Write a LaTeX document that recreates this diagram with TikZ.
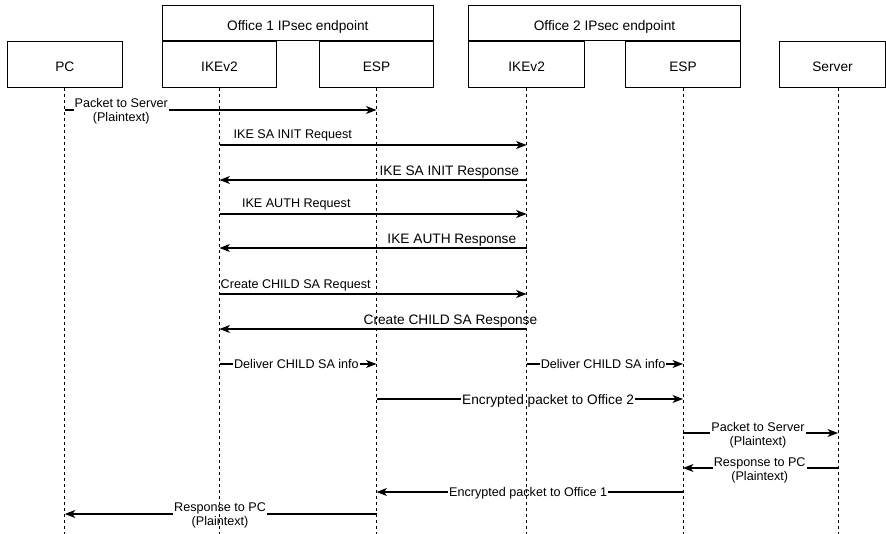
\documentclass[tikz,border=0pt]{standalone}
\usepackage{fontspec}
\setmainfont{Liberation Sans}
\usetikzlibrary{arrows.meta}

% font sizes for edge labels and participant boxes
\newcommand\lblfont{\fontsize{12.6}{14}\selectfont}
\newcommand\boxfont{\fontsize{13.7}{16}\selectfont}
% two-line label whose baseline is the first line
\newcommand\twolines[2]{\begin{tabular}[t]{@{}c@{}}#1\\#2\end{tabular}}

\tikzset{
  actor/.style={draw, line width=1pt, inner sep=0pt, font=\boxfont,
                text height=16.9pt, text depth=2.9pt},
  lifeline/.style={line width=0.9pt, dash pattern=on 3pt off 3pt},
  msg/.style={line width=1.1pt, -{Stealth[length=10.5pt,width=8pt,inset=3pt]}},
  % label sitting on its connector, blanking the line behind it
  lbl/.style={fill=white, inner sep=1pt, anchor=base, font=\lblfont},
  lblbig/.style={lbl, font=\boxfont},
  % label placed above its connector
  above lbl/.style={inner sep=1pt, anchor=base, font=\lblfont},
  above lblbig/.style={above lbl, font=\boxfont},
}

\begin{document}
\begin{tikzpicture}[x=1pt, y=-1pt]
\useasboundingbox (0,0) rectangle (886,534);
\coordinate (bottom) at (0,534);

% participants
\node[actor, minimum width=271pt,   minimum height=34.7pt] (off1) at (297.8,23.35) {Office 1 IPsec endpoint};
\node[actor, minimum width=272.4pt, minimum height=34.7pt] (off2) at (604.5,23.35) {Office 2 IPsec endpoint};
\node[actor, minimum width=115pt,   minimum height=45.8pt] (pc)   at (64.8,64.6)  {PC};
\node[actor, minimum width=114.4pt, minimum height=45.8pt] (ike1) at (219.5,64.6) {IKEv2};
\node[actor, minimum width=114.4pt, minimum height=45.8pt] (esp1) at (376.5,64.6) {ESP};
\node[actor, minimum width=115.7pt, minimum height=45.8pt] (ike2) at (526.6,64.6) {IKEv2};
\node[actor, minimum width=115.7pt, minimum height=45.8pt] (esp2) at (683,64.6)   {ESP};
\node[actor, minimum width=106.4pt, minimum height=45.8pt] (srv)  at (832.5,64.6) {Server};
\coordinate (srvl) at ([xshift=5.5pt]srv.south);

% messages
\draw[msg] (pc.south |- 0,110) -- (esp1.south |- 0,110)
  node[lbl, pos=0.181, yshift=2pt] (m1) {\twolines{Packet to Server}{(Plaintext)}};
\draw[msg] (ike1.south |- 0,145) -- (ike2.south |- 0,145)
  node[above lbl, pos=0.2386, yshift=6pt] (m2) {IKE SA INIT Request};
\draw[msg] (ike2.south |- 0,180) -- (ike1.south |- 0,180)
  node[above lblbig, pos=0.2516, yshift=4.5pt] (m3) {IKE SA INIT Response};
\draw[msg] (ike1.south |- 0,214) -- (ike2.south |- 0,214)
  node[above lbl, pos=0.25, yshift=6.5pt] (m4) {IKE AUTH Request};
\draw[msg] (ike2.south |- 0,248) -- (ike1.south |- 0,248)
  node[above lblbig, pos=0.2435, yshift=4pt] (m5) {IKE AUTH Response};
\draw[msg] (ike1.south |- 0,294) -- (ike2.south |- 0,294)
  node[above lbl, pos=0.248, yshift=5.5pt] (m6) {Create CHILD SA Request};
\draw[msg] (ike2.south |- 0,329) -- (ike1.south |- 0,329)
  node[above lblbig, pos=0.248, yshift=4pt] (m7) {Create CHILD SA Response};
\draw[msg] (ike1.south |- 0,364) -- (esp1.south |- 0,364)
  node[lbl, pos=0.49, yshift=-4.5pt] (m8) {Deliver CHILD SA info};
\draw[msg] (ike2.south |- 0,364) -- (esp2.south |- 0,364)
  node[lbl, pos=0.489, yshift=-4.5pt] (m9) {Deliver CHILD SA info};
\draw[msg] (esp1.south |- 0,399) -- (esp2.south |- 0,399)
  node[lblbig, pos=0.56, yshift=-5.5pt] (m10) {Encrypted packet to Office 2};
\draw[msg] (esp2.south |- 0,433) -- (srvl |- 0,433)
  node[lbl, pos=0.484, yshift=2pt] (m11) {\twolines{Packet to Server}{(Plaintext)}};
\draw[msg] (srvl |- 0,468) -- (esp2.south |- 0,468)
  node[lbl, pos=0.505, yshift=2pt] (m12) {\twolines{Response to PC}{(Plaintext)}};
\draw[msg] (esp2.south |- 0,492) -- (esp1.south |- 0,492)
  node[lbl, pos=0.505, yshift=-4.5pt] (m13) {Encrypted packet to Office 1};
\draw[msg] (esp1.south |- 0,514) -- (pc.south |- 0,514)
  node[lbl, pos=0.502, yshift=2.5pt] (m14) {\twolines{Response to PC}{(Plaintext)}};

% lifelines, drawn over the labels
\foreach \p in {pc, ike1, esp1, ike2, esp2}
  \draw[lifeline] (\p.south) -- (\p.south |- bottom);
\draw[lifeline] (srvl) -- (srvl |- bottom);
\end{tikzpicture}
\end{document}
